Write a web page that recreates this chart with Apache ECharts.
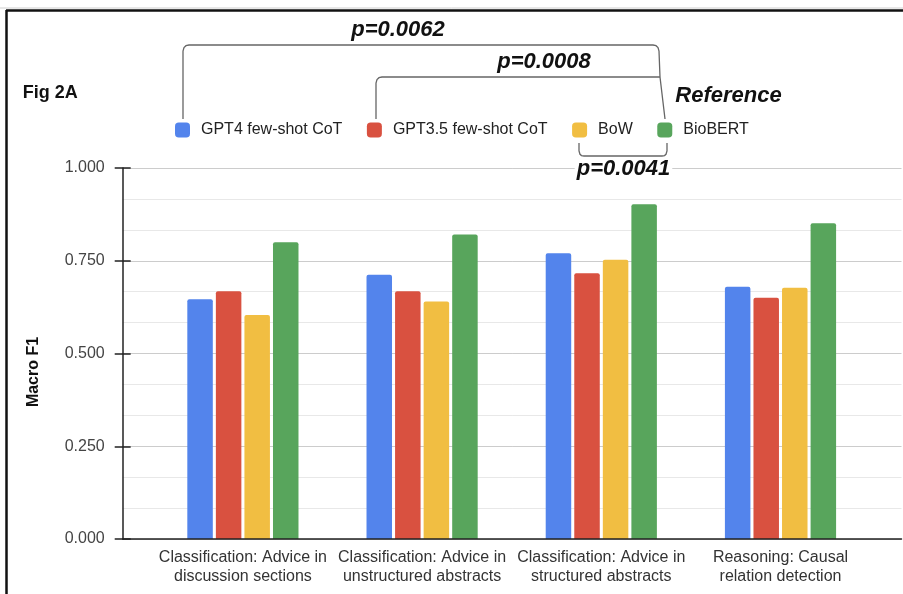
<!DOCTYPE html>
<html>
<head>
<meta charset="utf-8">
<script src="https://cdn.jsdelivr.net/npm/echarts@6/dist/echarts.min.js"></script>
<style>
html,body{margin:0;padding:0;background:#fff;}
#chart{width:903px;height:594px;}
</style>
</head>
<body>
<div id="chart"></div>
<script>
var categories = [
  'Classification: Advice in\ndiscussion sections',
  'Classification: Advice in\nunstructured abstracts',
  'Classification: Advice in\nstructured abstracts',
  'Reasoning: Causal\nrelation detection'
];
var seriesNames = ['GPT4 few-shot CoT', 'GPT3.5 few-shot CoT', 'BoW', 'BioBERT'];
var gpt4 = [0.646, 0.712, 0.770, 0.680];
var gpt35 = [0.668, 0.668, 0.716, 0.650];
var bow = [0.604, 0.640, 0.753, 0.677];
var biobert = [0.800, 0.821, 0.902, 0.851];
var colors = ['#5384EC', '#D95140', '#F1BE42', '#58A55C'];
var yMin = 0, yMax = 1, yStep = 0.25;
var pLabels = ['p=0.0062', 'p=0.0008', 'p=0.0041'];
var figLabel = 'Fig 2A';
var refLabel = 'Reference';

var FONT = '"Liberation Sans", Arial, sans-serif';
var chart = echarts.init(document.getElementById('chart'), null, {renderer: 'canvas'});

var seriesData = [gpt4, gpt35, bow, biobert];
var series = seriesData.map(function (d, i) {
  return {
    name: seriesNames[i],
    type: 'bar',
    xAxisIndex: 1,
    yAxisIndex: 2,
    data: d,
    barWidth: 25.5,
    barGap: '12%',
    itemStyle: {color: colors[i], borderRadius: [2, 2, 0, 0]},
    z: 3
  };
});

var bracketStyle = {stroke: '#666', lineWidth: 1.3, fill: null};
var pStyle = {fontFamily: FONT, fontSize: 22, fontWeight: 'bold', fontStyle: 'italic', fill: '#111'};

function bracket(points) {
  return {type: 'polyline', shape: {points: points}, style: bracketStyle, silent: true};
}

var option = {
  backgroundColor: '#fff',
  animation: false,
  color: colors,
  textStyle: {fontFamily: FONT},
  grid: [
    {left: 122.7, right: 1.5, top: 168, bottom: 55},
    {left: 153.3, right: 32.9, top: 168, bottom: 55}
  ],
  legend: {
    data: seriesNames,
    left: 175,
    top: 122,
    padding: 0,
    itemWidth: 15,
    itemHeight: 15,
    itemGap: 24.5,
    icon: 'roundRect',
    textStyle: {fontFamily: FONT, fontSize: 16, color: '#222', padding: [0, 0, 0, 6]}
  },
  xAxis: [
    {
      type: 'category', gridIndex: 0, data: categories,
      axisLine: {show: true, lineStyle: {color: '#222', width: 1.5}},
      axisTick: {show: false}, axisLabel: {show: false}, splitLine: {show: false}, z: 4
    },
    {
      type: 'category', gridIndex: 1, data: categories,
      axisLine: {show: false}, axisTick: {show: false},
      axisLabel: {fontFamily: FONT, fontSize: 16, color: '#333', lineHeight: 19, margin: 9, interval: 0}
    }
  ],
  yAxis: [
    {
      type: 'value', gridIndex: 0, min: yMin, max: yMax, interval: yStep,
      name: 'Macro F1', nameLocation: 'middle', nameRotate: 90, nameGap: 81,
      nameTextStyle: {fontFamily: FONT, fontSize: 16, fontWeight: 'bold', color: '#111', padding: [0, 37, 0, 0]},
      axisLine: {show: true, lineStyle: {color: '#222', width: 1.5}},
      axisTick: {show: true, length: 8, lineStyle: {color: '#222', width: 1.5}},
      axisLabel: {fontFamily: FONT, fontSize: 16, color: '#444', margin: 18,
        formatter: function (v) { return v.toFixed(3); }},
      splitLine: {show: true, lineStyle: {color: '#cccccc', width: 1}},
      minorTick: {show: false, splitNumber: 3},
      minorSplitLine: {show: true, lineStyle: {color: '#e8e8e8', width: 1}}
    },
    {
      type: 'value', gridIndex: 0, min: yMin, max: yMax, interval: yStep, position: 'left',
      axisLine: {show: false},
      axisTick: {show: true, inside: true, length: 8, lineStyle: {color: '#222', width: 1.5}},
      axisLabel: {show: false}, splitLine: {show: false}
    },
    {
      type: 'value', gridIndex: 1, min: yMin, max: yMax, interval: yStep,
      axisLine: {show: false}, axisTick: {show: false}, axisLabel: {show: false}, splitLine: {show: false}
    }
  ],
  series: series,
  graphic: [
    {type: 'line', shape: {x1: 0, y1: 8, x2: 903, y2: 8}, style: {stroke: '#cfcfcf', lineWidth: 1}},
    {type: 'line', shape: {x1: 6, y1: 10.5, x2: 903, y2: 10.5}, style: {stroke: '#111', lineWidth: 2.5}},
    {type: 'line', shape: {x1: 6.5, y1: 10, x2: 6.5, y2: 594}, style: {stroke: '#111', lineWidth: 2.5}},
    bracket([[183,119],[183,51],[184,47.5],[186,45.7],[189,45],[653,45],[656,45.7],[658,47.5],[659,51],[660,77],[665,119]]),
    bracket([[376,119],[376,83],[377,79.5],[379,77.7],[382,77],[660,77]]),
    bracket([[579,143],[579,151],[580,154.3],[581.5,155.6],[584,156],[662,156],[664.5,155.6],[666,154.3],[667,151],[667,143]]),
    {type: 'text', x: 398, y: 30, z: 10, style: Object.assign({text: pLabels[0], align: 'center', verticalAlign: 'middle'}, pStyle)},
    {type: 'text', x: 544, y: 62, z: 10, style: Object.assign({text: pLabels[1], align: 'center', verticalAlign: 'middle'}, pStyle)},
    {type: 'text', x: 623.5, y: 169, z: 10, style: Object.assign({text: pLabels[2], align: 'center', verticalAlign: 'middle', backgroundColor: '#fff', padding: [0, 2, 0, 2]}, pStyle)},
    {type: 'text', x: 728.5, y: 96, z: 10, style: Object.assign({text: refLabel, align: 'center', verticalAlign: 'middle'}, pStyle)},
    {type: 'text', x: 22.7, y: 93, z: 10, style: {text: figLabel, align: 'left', verticalAlign: 'middle', fontFamily: FONT, fontSize: 18, fontWeight: 'bold', fill: '#111'}}
  ]
};
chart.setOption(option);
</script>
</body>
</html>
